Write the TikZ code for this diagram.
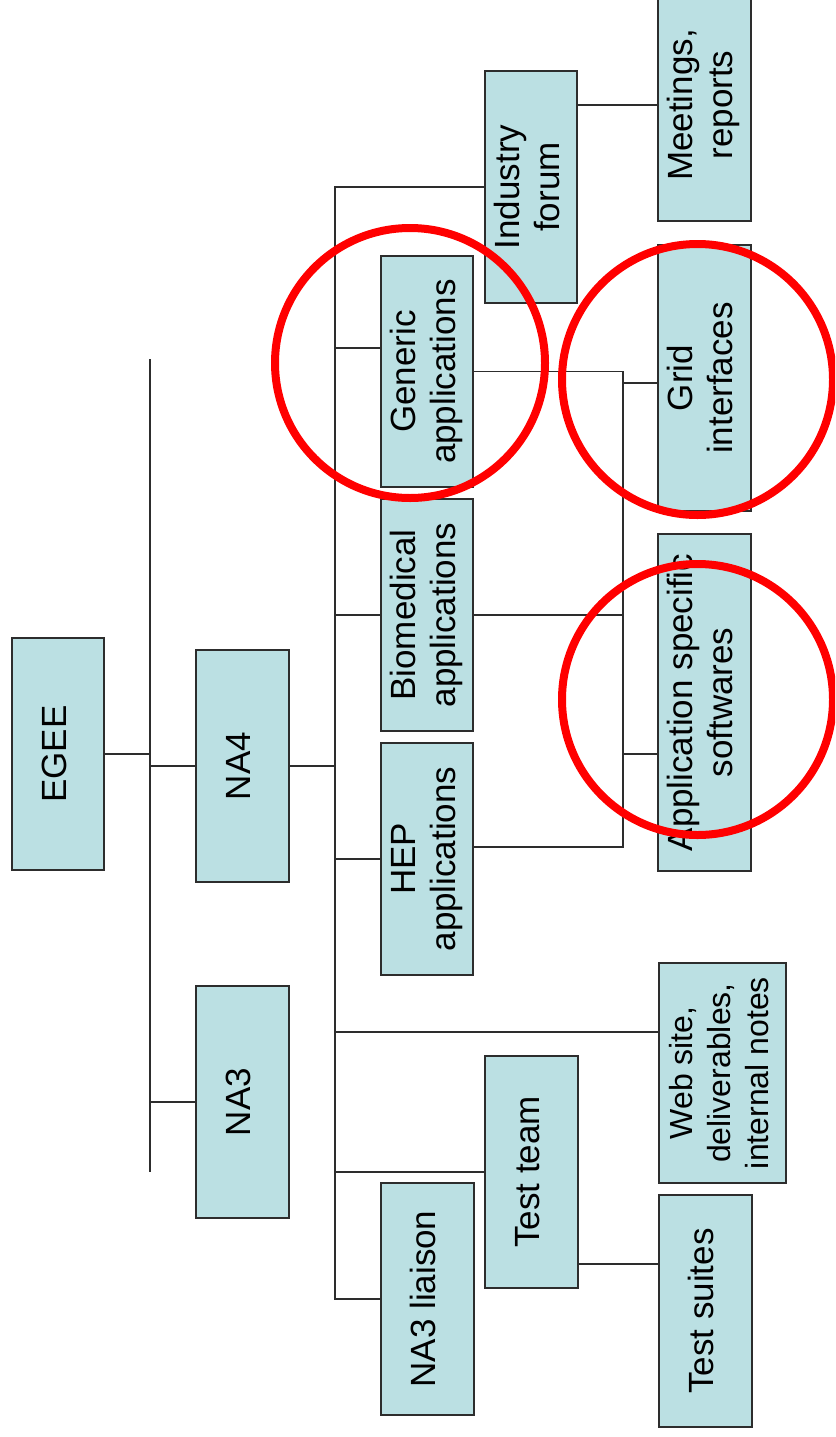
\documentclass[tikz,border=0pt]{standalone}
\usepackage{graphicx}
\usepackage{fontspec}
\setmainfont{Liberation Sans}
\usetikzlibrary{positioning}
\definecolor{boxfill}{RGB}{187,224,227}
\definecolor{linegray}{RGB}{45,45,45}
\newcommand{\uptext}[1]{\rotatebox{90}{\begin{tabular}{@{}c@{}}#1\end{tabular}}}

\begin{document}
\begin{tikzpicture}[x=1pt,y=-1pt,
  unit/.style={rectangle,draw=linegray,line width=1.5pt,fill=boxfill,inner sep=0pt,font=\fontsize{35}{40}\selectfont},
  link/.style={draw=linegray,line width=1.5pt},
  redring/.style={draw=red,line width=8pt}]
\useasboundingbox (0,0) rectangle (835,1437);
\clip (0,0) rectangle (835,1437);

\node[unit,minimum width=92pt,minimum height=232pt] (egee) at (58,754) {\uptext{EGEE}};
\node[unit,minimum width=93pt,minimum height=232pt] (na4) at (242.5,766) {\uptext{NA4}};
\node[unit,minimum width=93pt,minimum height=232pt] (na3) at (242.5,1102) {\uptext{NA3}};

\node[unit,minimum width=92pt,minimum height=231pt] (generic) at (427,371.5) {\uptext{Generic\\applications}};
\node[unit,minimum width=92pt,minimum height=232pt] (biomed) at (427,615) {\uptext{Biomedical\\applications}};
\node[unit,minimum width=92pt,minimum height=232pt] (hep) at (427,859) {\uptext{HEP\\applications}};
\node[unit,minimum width=93pt,minimum height=232pt] (liaison) at (427.5,1299) {\uptext{NA3 liaison}};

\node[unit,minimum width=92pt,minimum height=232pt] (industry) at (531,187) {\uptext{Industry\\forum}};
\node[unit,minimum width=93pt,minimum height=232pt] (testteam) at (531.5,1172) {\uptext{Test team}};

\node[unit,minimum width=93pt,minimum height=232pt] (meetings) at (704.5,105) {\uptext{Meetings,\\reports}};
\node[unit,minimum width=93pt,minimum height=266pt] (grid) at (704.5,378) {\uptext{Grid\\interfaces}};
\node[unit,minimum width=93pt,minimum height=337pt] (appsw) at (704.5,702.5) {\uptext{Application specific\\softwares}};
\node[unit,minimum width=127pt,minimum height=220pt,font=\fontsize{32}{38}\selectfont] (website) at (722.5,1073) {\uptext{Web site,\\deliverables,\\internal notes}};
\node[unit,minimum width=93pt,minimum height=232pt] (testsuites) at (705.5,1311) {\uptext{Test suites}};

% buses
\coordinate (busAtop) at (150,359);
\coordinate (busAbot) at (150,1172);
\coordinate (busBbot) at (335,1299);
\coordinate (busC) at (623,0);

\draw[link] (busAtop) -- (busAbot);
\draw[link] (egee.east) -- (egee.east -| busAtop);
\draw[link] (busAtop |- na4.west) -- (na4.west);
\draw[link] (busAtop |- na3.west) -- (na3.west);

\draw[link] (na4.east) -- (na4.east -| busBbot);
\draw[link] (industry.west) -| (busBbot) -- (liaison.west);
\coordinate (genin) at ([yshift=23.5pt]generic.west);
\draw[link] (genin -| busBbot) -- (genin);
\draw[link] (biomed.west -| busBbot) -- (biomed.west);
\draw[link] (hep.west -| busBbot) -- (hep.west);
\coordinate (webin) at ([yshift=41pt]website.west);
\draw[link] (webin -| busBbot) -- (webin);
\draw[link] (testteam.west -| busBbot) -- (testteam.west);

\coordinate (hepout) at ([yshift=12pt]hep.east);
\draw[link] (generic.east) -| (hepout -| busC) -- (hepout);
\draw[link] (biomed.east) -- (biomed.east -| busC);
\coordinate (gridin) at ([yshift=-5pt]grid.west);
\draw[link] (gridin -| busC) -- (gridin);
\coordinate (appin) at ([yshift=-51.5pt]appsw.west);
\draw[link] (appin -| busC) -- (appin);

\draw[link] (industry.east |- meetings.west) -- (meetings.west);
\coordinate (suitein) at ([yshift=47pt]testsuites.west);
\draw[link] (suitein -| testteam.east) -- (suitein);

%rings
\draw[redring] (410,363) circle[radius=135pt];
\draw[redring] (697.5,379.5) circle[radius=135.5pt];
\draw[redring] (697.5,699.5) circle[radius=135.5pt];
\end{tikzpicture}
\end{document}
